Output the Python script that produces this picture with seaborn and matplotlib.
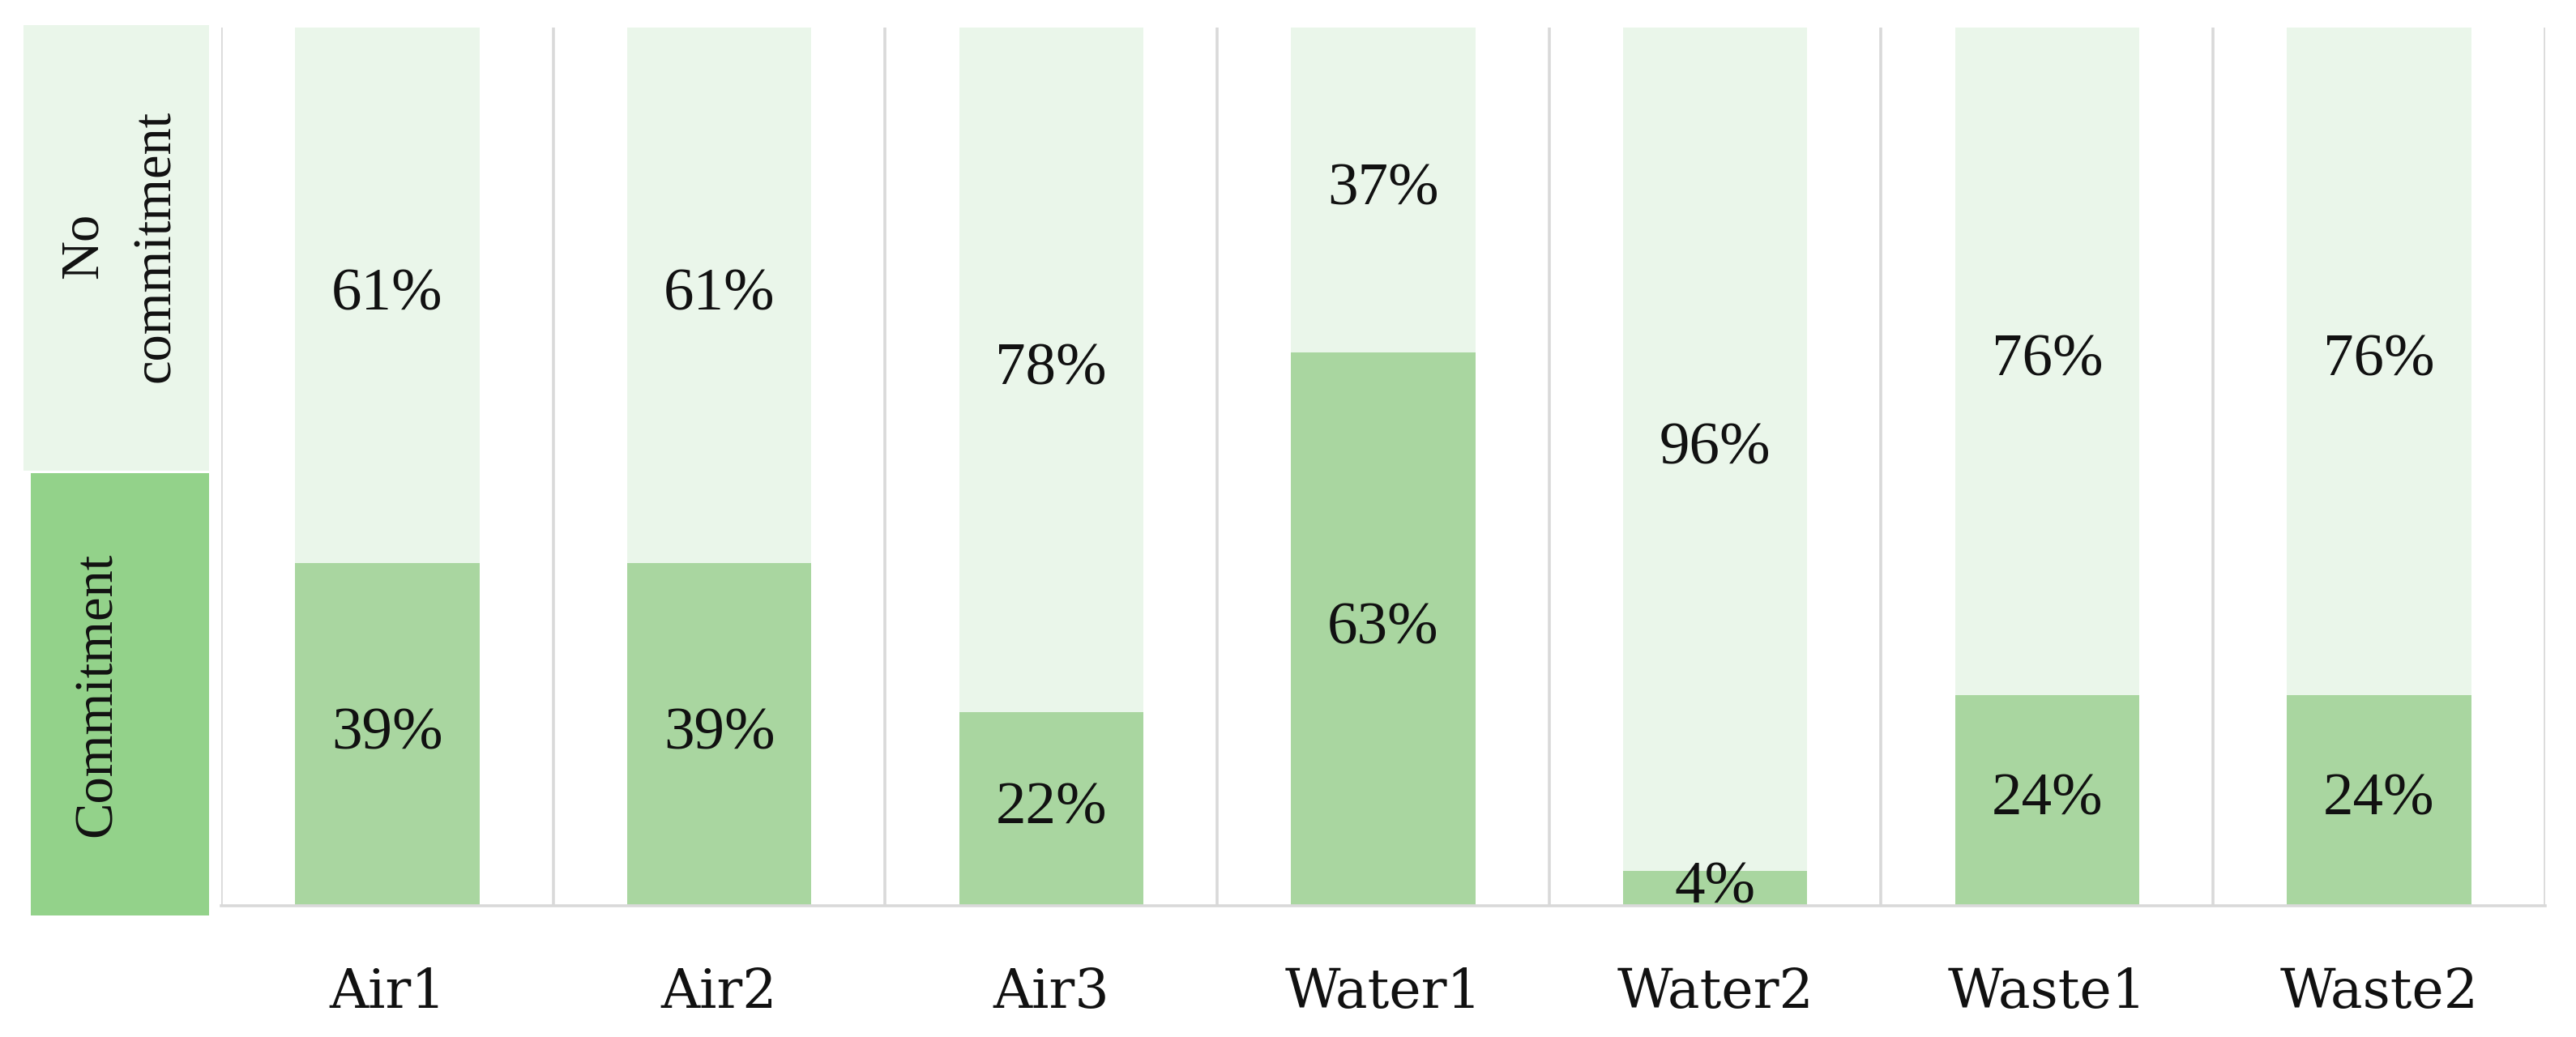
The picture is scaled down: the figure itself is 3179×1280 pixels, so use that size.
import matplotlib
matplotlib.use("Agg")
import matplotlib.pyplot as plt
import seaborn as sns
import pandas as pd

categories = ["Air1", "Air2", "Air3", "Water1", "Water2", "Waste1", "Waste2"]
commitment = [39, 39, 22, 63, 4, 24, 24]
no_commitment = [61, 61, 78, 37, 96, 76, 76]
labels_legend = ["Commitment", "No\ncommitment"]

C_COMMIT = "#A9D6A0"
C_NOCOMMIT = "#EAF6EA"
C_LEG_DARK = "#93D28A"
C_GRID = "#D9D9D9"

sns.set_theme(style="white")
plt.rcParams["font.family"] = ["Liberation Serif", "DejaVu Serif"]

fig = plt.figure(figsize=(31.79, 12.80), dpi=100)
ax = fig.add_axes([0.0859, 0.1266, 0.988 - 0.0859, 0.9734 - 0.1266])

df = pd.DataFrame({
    "cat": categories,
    "commit": commitment,
    "nocommit": no_commitment,
})
df["total"] = df["commit"] + df["nocommit"]

sns.barplot(data=df, x="cat", y="total", color=C_NOCOMMIT, width=0.555,
            saturation=1, ax=ax, edgecolor="none")
sns.barplot(data=df, x="cat", y="commit", color=C_COMMIT, width=0.555,
            saturation=1, ax=ax, edgecolor="none")

n = len(categories)
ax.set_xlim(-0.5, n - 0.5)
ax.set_ylim(0, 100)
for k in range(n + 1):
    ax.axvline(k - 0.5, color=C_GRID, lw=2.6, zorder=0.5)

for s in ["top", "right", "left"]:
    ax.spines[s].set_visible(False)
ax.spines["bottom"].set_color(C_GRID)
ax.spines["bottom"].set_linewidth(2.6)

ax.set_yticks([])
ax.set_xlabel("")
ax.set_ylabel("")
ax.tick_params(axis="x", length=0, pad=54)
for t in ax.get_xticklabels():
    t.set_fontfamily("DejaVu Serif")
    t.set_fontsize(48)
    t.set_color("#111111")

for i, (c, nc) in enumerate(zip(commitment, no_commitment)):
    ax.text(i, c / 2, f"{c}%", ha="center", va="center", fontsize=54,
            color="#111111")
    ax.text(i, c + nc / 2, f"{nc}%", ha="center", va="center", fontsize=54,
            color="#111111")

# Legend-like category column on the left
lax = fig.add_axes([29 / 3179, 1 - 1130 / 1280, (258 - 29) / 3179, (1130 - 31) / 1280])
lax.set_xlim(0, 1)
lax.set_ylim(0, 1)
lax.axis("off")
lax.axhspan(0.0, 0.4965, xmin=0.04, xmax=1.0, color=C_LEG_DARK, lw=0)
lax.axhspan(0.5, 1.0, xmin=0.0, xmax=1.0, color=C_NOCOMMIT, lw=0)
lax.text(0.40, 0.248, labels_legend[0], rotation=90, ha="center", va="center",
         fontsize=48, color="#111111")
lax.text(0.52, 0.752, labels_legend[1], rotation=90, ha="center", va="center",
         fontsize=48, color="#111111", linespacing=1.6, multialignment="center")

fig.savefig("out.png", dpi=100, facecolor="white")
